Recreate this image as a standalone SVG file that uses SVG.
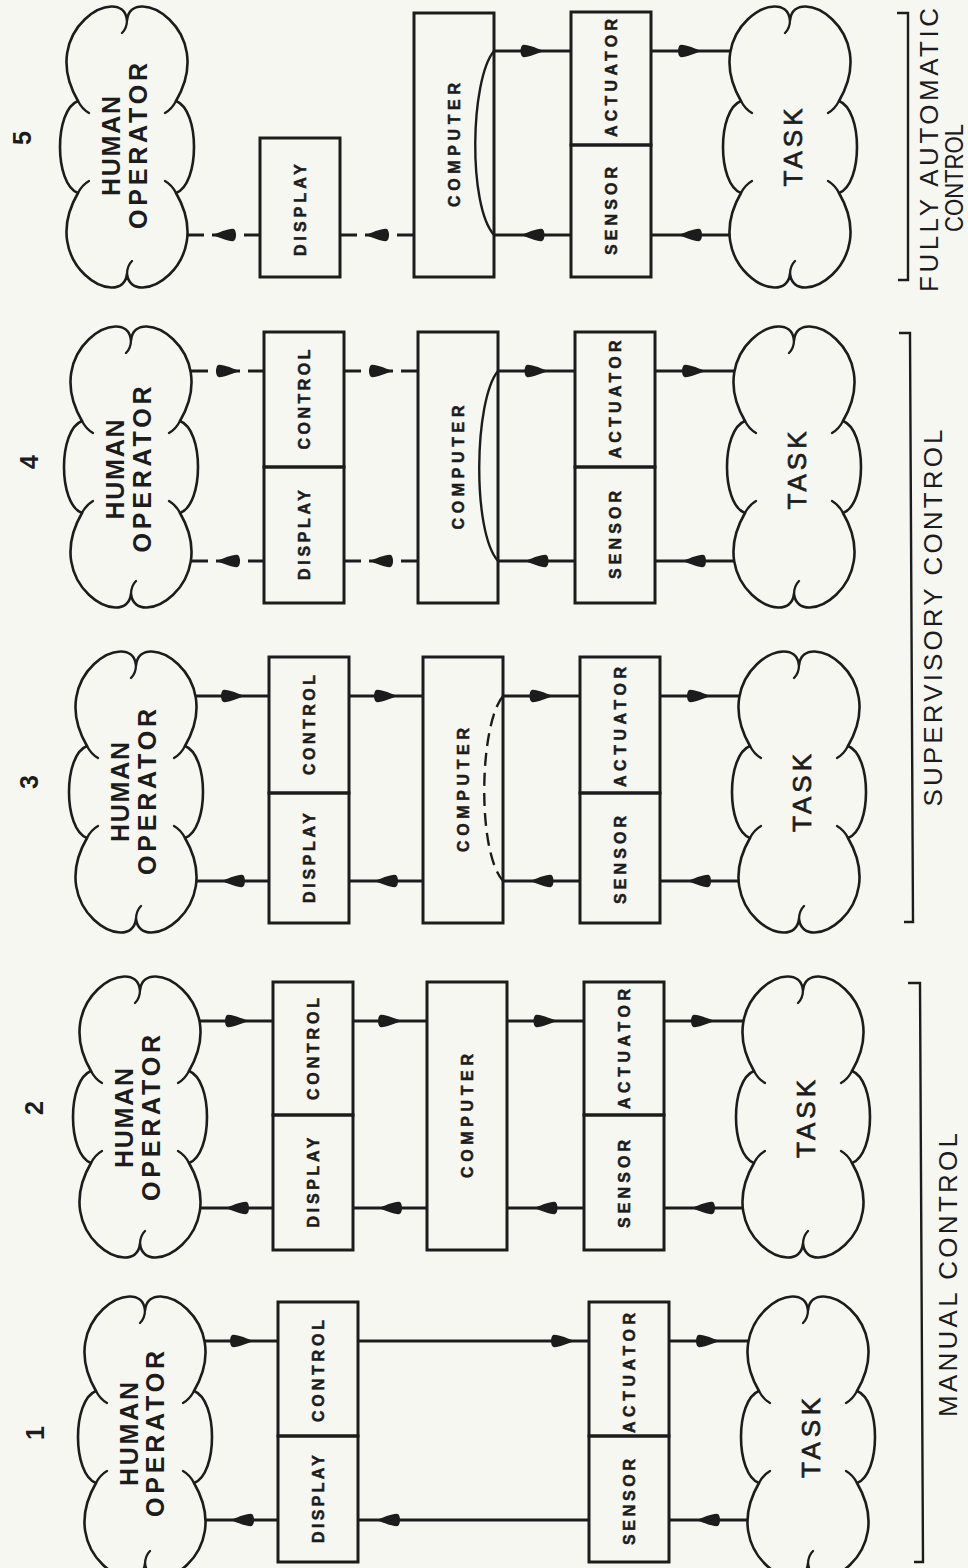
<svg xmlns="http://www.w3.org/2000/svg" xmlns:xlink="http://www.w3.org/1999/xlink" width="968" height="1568" viewBox="0 0 968 1568">
<defs>
<style>
.ln{fill:none;stroke:#1c1c1c;stroke-width:2.8;marker-mid:url(#ah);}
.d1{stroke-dasharray:24 8 24 8 300;}
.d2{stroke-dasharray:17 8 24 8 300;}
.d3{stroke-dasharray:16 8 24 8 300;}
.arc{fill:none;stroke:#1c1c1c;stroke-width:2.4;}
.arcd{fill:none;stroke:#1c1c1c;stroke-width:2.4;stroke-dasharray:13 7;}
.bx{fill:none;stroke:#1c1c1c;stroke-width:3;}
.cloud{fill:#f7f7f2;stroke:#1c1c1c;stroke-width:2.6;stroke-linejoin:round;}
.tick{fill:none;stroke:#1c1c1c;stroke-width:2.3;stroke-linecap:round;}
.brk{fill:none;stroke:#1c1c1c;stroke-width:2.4;}
text{font-family:"Liberation Sans",Arial,Helvetica,sans-serif;fill:#1c1c1c;text-anchor:middle;}
.cl{font-size:25px;font-weight:bold;}
.bl{font-size:16px;font-weight:bold;stroke:#1c1c1c;stroke-width:0.5;}
.tk{font-size:26px;stroke:#1c1c1c;stroke-width:0.7;}
.nm{font-size:25px;font-weight:bold;}
.br{font-size:26px;}
</style>
<marker id="ah" markerUnits="userSpaceOnUse" markerWidth="28" markerHeight="16" refX="14" refY="8" orient="auto">
<path d="M26,8 C20,6 10,1.6 5,1.8 C1,2 1,14 5,14.2 C10,14.4 20,10 26,8 Z" fill="#1c1c1c"/>
</marker>
<g id="cloud">
<path class="cloud" d="M67,18 C72,-20 158,27 116,99 C140,108 140,182 116,191 C158,263 72,310 67,272 C62,310 -24,263 18,191 C-6,182 -6,108 18,99 C-24,27 62,-20 67,18 Z"/>
<path class="tick" d="M67,18 Q67,26 62,31 M116,99 Q112,107 105,111 M116,191 Q112,183 105,179 M67,272 Q67,264 72,259 M18,191 Q22,183 29,179 M18,99 Q22,107 29,111"/>
</g>
</defs>
<rect x="0" y="0" width="968" height="1568" fill="#f7f7f2"/>

<g id="connectors">
<!-- panel 5 -->
<path class="ln" d="M494,51 L532.5,51 L571,51"/>
<path class="ln" d="M651,51 L690,51 L740,51"/>
<path class="ln" d="M740,235 L690,235 L651,235"/>
<path class="ln" d="M571,235 L532.5,235 L494,235"/>
<path class="ln d2" d="M414,235 L377,235 L340,235"/>
<path class="ln d3" d="M260,235 L224,235 L180,235"/>
<path class="arc" d="M494,51 C470,80 468,206 494,235"/>
<!-- panel 4 -->
<path class="ln d1" d="M184,371 L228,371 L264,371"/>
<path class="ln d2" d="M344,371 L381,371 L418,371"/>
<path class="ln" d="M498,371 L536.5,371 L575,371"/>
<path class="ln" d="M655,371 L694,371 L744,371"/>
<path class="ln" d="M744,561 L694,561 L655,561"/>
<path class="ln" d="M575,561 L536.5,561 L498,561"/>
<path class="ln d2" d="M418,561 L381,561 L344,561"/>
<path class="ln d3" d="M264,561 L228,561 L184,561"/>
<path class="arc" d="M498,371 C474,400 472,532 498,561"/>
<!-- panel 3 -->
<path class="ln" d="M189,696 L233,696 L269,696"/>
<path class="ln" d="M349,696 L386,696 L423,696"/>
<path class="ln" d="M503,696 L541.5,696 L580,696"/>
<path class="ln" d="M660,696 L699,696 L749,696"/>
<path class="ln" d="M749,881 L699,881 L660,881"/>
<path class="ln" d="M580,881 L541.5,881 L503,881"/>
<path class="ln" d="M423,881 L386,881 L349,881"/>
<path class="ln" d="M269,881 L233,881 L189,881"/>
<path class="arcd" d="M503,696 C479,725 477,852 503,881"/>
<!-- panel 2 -->
<path class="ln" d="M193,1021 L237,1021 L273,1021"/>
<path class="ln" d="M353,1021 L390,1021 L427,1021"/>
<path class="ln" d="M507,1021 L545.5,1021 L584,1021"/>
<path class="ln" d="M664,1021 L703,1021 L753,1021"/>
<path class="ln" d="M753,1208 L703,1208 L664,1208"/>
<path class="ln" d="M584,1208 L545.5,1208 L507,1208"/>
<path class="ln" d="M427,1208 L390,1208 L353,1208"/>
<path class="ln" d="M273,1208 L237,1208 L193,1208"/>
<!-- panel 1 -->
<path class="ln" d="M198,1341 L242,1341 L278,1341"/>
<path class="ln" d="M358,1341 L563,1341 L589,1341"/>
<path class="ln" d="M669,1341 L708,1341 L758,1341"/>
<path class="ln" d="M758,1520 L708,1520 L669,1520"/>
<path class="ln" d="M589,1520 L388,1520 L358,1520"/>
<path class="ln" d="M278,1520 L242,1520 L198,1520"/>
</g>

<!-- panel 5 -->
<g id="p5-label"><text class="nm" transform="translate(22,138) rotate(-90)" y="9">5</text></g>
<g id="p5-operator"><use xlink:href="#cloud" x="60" y="2"/>
<text class="cl" transform="translate(111,146) rotate(-90)" y="9" textLength="100" lengthAdjust="spacing">HUMAN</text>
<text class="cl" transform="translate(138,146) rotate(-90)" y="9" textLength="166" lengthAdjust="spacing">OPERATOR</text></g>
<g id="p5-display"><rect class="bx" x="260" y="138" width="80" height="139"/>
<text class="bl" transform="translate(300,210) rotate(-90)" y="5.8" textLength="92" lengthAdjust="spacing">DISPLAY</text></g>
<g id="p5-computer"><rect class="bx" x="414" y="13" width="80" height="264"/>
<text class="bl" transform="translate(454,145) rotate(-90)" y="5.8" textLength="124" lengthAdjust="spacing">COMPUTER</text></g>
<g id="p5-actuator"><rect class="bx" x="571" y="12" width="80" height="133"/>
<text class="bl" transform="translate(611,78) rotate(-90)" y="5.8" textLength="118" lengthAdjust="spacing">ACTUATOR</text></g>
<g id="p5-sensor"><rect class="bx" x="571" y="145" width="80" height="132"/>
<text class="bl" transform="translate(611,211) rotate(-90)" y="5.8" textLength="88" lengthAdjust="spacing">SENSOR</text></g>
<g id="p5-task"><use xlink:href="#cloud" x="723" y="2"/>
<text class="tk" transform="translate(793,147.5) rotate(-90)" y="9.4" textLength="78" lengthAdjust="spacing">TASK</text></g>

<!-- panel 4 -->
<g id="p4-label"><text class="nm" transform="translate(29,462) rotate(-90)" y="9">4</text></g>
<g id="p4-operator"><use xlink:href="#cloud" x="64" y="322"/>
<text class="cl" transform="translate(115,469.5) rotate(-90)" y="9" textLength="100" lengthAdjust="spacing">HUMAN</text>
<text class="cl" transform="translate(142,469.5) rotate(-90)" y="9" textLength="166" lengthAdjust="spacing">OPERATOR</text></g>
<g id="p4-control"><rect class="bx" x="264" y="332" width="80" height="135"/>
<text class="bl" transform="translate(304,399.5) rotate(-90)" y="5.8" textLength="100" lengthAdjust="spacing">CONTROL</text></g>
<g id="p4-display"><rect class="bx" x="264" y="467" width="80" height="136"/>
<text class="bl" transform="translate(304,535) rotate(-90)" y="5.8" textLength="90" lengthAdjust="spacing">DISPLAY</text></g>
<g id="p4-computer"><rect class="bx" x="418" y="332" width="80" height="271"/>
<text class="bl" transform="translate(458,467.5) rotate(-90)" y="5.8" textLength="124" lengthAdjust="spacing">COMPUTER</text></g>
<g id="p4-actuator"><rect class="bx" x="575" y="332" width="80" height="135"/>
<text class="bl" transform="translate(615,399.5) rotate(-90)" y="5.8" textLength="118" lengthAdjust="spacing">ACTUATOR</text></g>
<g id="p4-sensor"><rect class="bx" x="575" y="467" width="80" height="136"/>
<text class="bl" transform="translate(615,535) rotate(-90)" y="5.8" textLength="88" lengthAdjust="spacing">SENSOR</text></g>
<g id="p4-task"><use xlink:href="#cloud" x="727" y="322"/>
<text class="tk" transform="translate(797,470.5) rotate(-90)" y="9.4" textLength="78" lengthAdjust="spacing">TASK</text></g>

<!-- panel 3 -->
<g id="p3-label"><text class="nm" transform="translate(29,782) rotate(-90)" y="9">3</text></g>
<g id="p3-operator"><use xlink:href="#cloud" x="69" y="647"/>
<text class="cl" transform="translate(120,792) rotate(-90)" y="9" textLength="100" lengthAdjust="spacing">HUMAN</text>
<text class="cl" transform="translate(147,792) rotate(-90)" y="9" textLength="166" lengthAdjust="spacing">OPERATOR</text></g>
<g id="p3-control"><rect class="bx" x="269" y="657" width="80" height="136"/>
<text class="bl" transform="translate(309,725) rotate(-90)" y="5.8" textLength="100" lengthAdjust="spacing">CONTROL</text></g>
<g id="p3-display"><rect class="bx" x="269" y="793" width="80" height="130"/>
<text class="bl" transform="translate(309,858) rotate(-90)" y="5.8" textLength="90" lengthAdjust="spacing">DISPLAY</text></g>
<g id="p3-computer"><rect class="bx" x="423" y="657" width="80" height="266"/>
<text class="bl" transform="translate(463,790) rotate(-90)" y="5.8" textLength="124" lengthAdjust="spacing">COMPUTER</text></g>
<g id="p3-actuator"><rect class="bx" x="580" y="657" width="80" height="136"/>
<text class="bl" transform="translate(620,727) rotate(-90)" y="5.8" textLength="120" lengthAdjust="spacing">ACTUATOR</text></g>
<g id="p3-sensor"><rect class="bx" x="580" y="793" width="80" height="130"/>
<text class="bl" transform="translate(620,860) rotate(-90)" y="5.8" textLength="88" lengthAdjust="spacing">SENSOR</text></g>
<g id="p3-task"><use xlink:href="#cloud" x="732" y="647"/>
<text class="tk" transform="translate(802,793) rotate(-90)" y="9.4" textLength="78" lengthAdjust="spacing">TASK</text></g>

<!-- panel 2 -->
<g id="p2-label"><text class="nm" transform="translate(34,1108) rotate(-90)" y="9">2</text></g>
<g id="p2-operator"><use xlink:href="#cloud" x="73" y="972"/>
<text class="cl" transform="translate(124,1118) rotate(-90)" y="9" textLength="100" lengthAdjust="spacing">HUMAN</text>
<text class="cl" transform="translate(151,1118) rotate(-90)" y="9" textLength="166" lengthAdjust="spacing">OPERATOR</text></g>
<g id="p2-control"><rect class="bx" x="273" y="982" width="80" height="133"/>
<text class="bl" transform="translate(313,1049) rotate(-90)" y="5.8" textLength="102" lengthAdjust="spacing">CONTROL</text></g>
<g id="p2-display"><rect class="bx" x="273" y="1115" width="80" height="135"/>
<text class="bl" transform="translate(313,1182.5) rotate(-90)" y="5.8" textLength="90" lengthAdjust="spacing">DISPLAY</text></g>
<g id="p2-computer"><rect class="bx" x="427" y="982" width="80" height="268"/>
<text class="bl" transform="translate(467,1116) rotate(-90)" y="5.8" textLength="124" lengthAdjust="spacing">COMPUTER</text></g>
<g id="p2-actuator"><rect class="bx" x="584" y="982" width="80" height="133"/>
<text class="bl" transform="translate(624,1049) rotate(-90)" y="5.8" textLength="120" lengthAdjust="spacing">ACTUATOR</text></g>
<g id="p2-sensor"><rect class="bx" x="584" y="1115" width="80" height="135"/>
<text class="bl" transform="translate(624,1184) rotate(-90)" y="5.8" textLength="88" lengthAdjust="spacing">SENSOR</text></g>
<g id="p2-task"><use xlink:href="#cloud" x="736" y="972"/>
<text class="tk" transform="translate(806,1119) rotate(-90)" y="9.4" textLength="78" lengthAdjust="spacing">TASK</text></g>

<!-- panel 1 -->
<g id="p1-label"><text class="nm" transform="translate(35,1433) rotate(-90)" y="9">1</text></g>
<g id="p1-operator"><use xlink:href="#cloud" x="78" y="1292"/>
<text class="cl" transform="translate(129,1434) rotate(-90)" y="9" textLength="104" lengthAdjust="spacing">HUMAN</text>
<text class="cl" transform="translate(155,1434) rotate(-90)" y="9" textLength="166" lengthAdjust="spacing">OPERATOR</text></g>
<g id="p1-control"><rect class="bx" x="278" y="1302" width="80" height="134"/>
<text class="bl" transform="translate(318,1371) rotate(-90)" y="5.8" textLength="102" lengthAdjust="spacing">CONTROL</text></g>
<g id="p1-display"><rect class="bx" x="278" y="1436" width="80" height="126"/>
<text class="bl" transform="translate(318,1499) rotate(-90)" y="5.8" textLength="88" lengthAdjust="spacing">DISPLAY</text></g>
<g id="p1-actuator"><rect class="bx" x="589" y="1302" width="80" height="134"/>
<text class="bl" transform="translate(629,1373) rotate(-90)" y="5.8" textLength="120" lengthAdjust="spacing">ACTUATOR</text></g>
<g id="p1-sensor"><rect class="bx" x="589" y="1436" width="80" height="126"/>
<text class="bl" transform="translate(629,1502) rotate(-90)" y="5.8" textLength="86" lengthAdjust="spacing">SENSOR</text></g>
<g id="p1-task"><use xlink:href="#cloud" x="741" y="1292"/>
<text class="tk" transform="translate(811,1438) rotate(-90)" y="9.4" textLength="80" lengthAdjust="spacing">TASK</text></g>

<g id="brackets">
<polyline class="brk" points="897,13 908,13 908,280 898,280"/>
<text class="br" transform="translate(929,150) rotate(-90)" y="9.4" textLength="284" lengthAdjust="spacing">FULLY AUTOMATIC</text>
<text class="br" transform="translate(954,178) rotate(-90)" y="9.4" textLength="108" lengthAdjust="spacingAndGlyphs">CONTROL</text>
<polyline class="brk" points="899,333 910,333 913,922 904,922"/>
<text class="br" transform="translate(933,618) rotate(-90)" y="9.4" textLength="377" lengthAdjust="spacing">SUPERVISORY CONTROL</text>
<polyline class="brk" points="908,983 920,983 923,1562 914,1562"/>
<text class="br" transform="translate(948,1275) rotate(-90)" y="9.4" textLength="284" lengthAdjust="spacing">MANUAL CONTROL</text>
</g>
</svg>
